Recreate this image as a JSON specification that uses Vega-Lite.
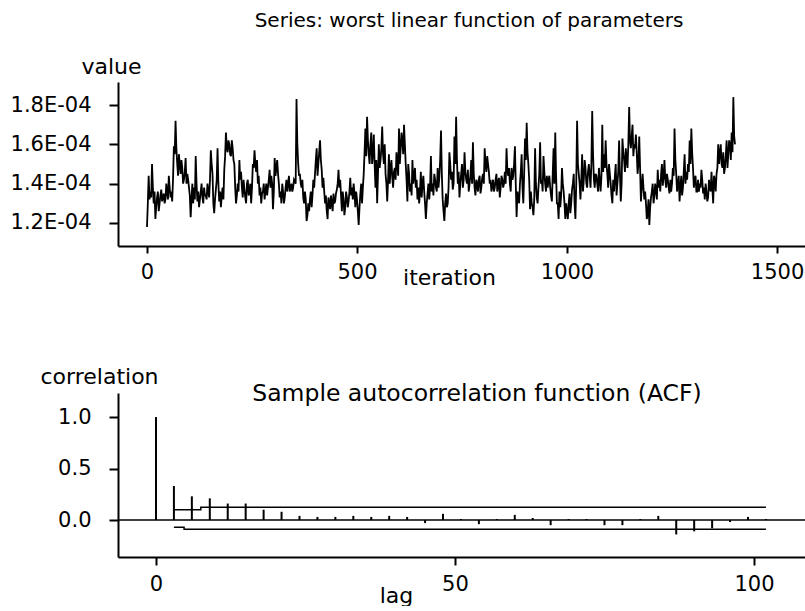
{
  "$schema": "https://vega.github.io/schema/vega-lite/v6.json",
  "autosize": {"type": "pad"},
  "padding": {"left": 10, "top": 11, "right": 0, "bottom": 0},
  "background": "white",
  "bounds": "flush",
  "spacing": 147,
  "config": {
    "view": {"stroke": null},
    "font": "DejaVu Sans",
    "axis": {"domainColor": "black", "domainWidth": 2, "tickColor": "black", "tickWidth": 2, "tickSize": 8, "labelColor": "black", "titleColor": "black", "labelFont": "DejaVu Sans", "titleFont": "DejaVu Sans", "labelFontSize": 21, "titleFontSize": 22, "titleFontWeight": "normal", "grid": false},
    "title": {"font": "DejaVu Sans", "fontSize": 21, "fontWeight": "normal", "color": "black"}
  },
  "vconcat": [
    {
      "width": 688,
      "height": 164,
      "title": {"text": "Series: worst linear function of parameters", "anchor": "middle", "frame": "group", "offset": 0, "dx": 7, "baseline": "alphabetic", "dy": -8, "fontSize": 20},
      "data": {"values": [
        {"i":0,"v":1.18e-4},{"i":4,"v":1.44e-4},{"i":8,"v":1.36e-4},{"i":12,"v":1.50e-4},{"i":16,"v":1.30e-4},{"i":20,"v":1.22e-4},{"i":24,"v":1.33e-4},{"i":28,"v":1.26e-4},{"i":32,"v":1.34e-4},{"i":36,"v":1.31e-4},{"i":40,"v":1.35e-4},{"i":44,"v":1.32e-4},{"i":48,"v":1.36e-4},{"i":52,"v":1.44e-4},{"i":56,"v":1.33e-4},{"i":60,"v":1.31e-4},{"i":64,"v":1.59e-4},{"i":68,"v":1.72e-4},{"i":72,"v":1.50e-4},{"i":76,"v":1.55e-4},{"i":80,"v":1.45e-4},{"i":84,"v":1.48e-4},{"i":88,"v":1.42e-4},{"i":92,"v":1.53e-4},{"i":96,"v":1.45e-4},{"i":100,"v":1.38e-4},{"i":104,"v":1.23e-4},{"i":108,"v":1.40e-4},{"i":112,"v":1.38e-4},{"i":116,"v":1.54e-4},{"i":120,"v":1.31e-4},{"i":124,"v":1.28e-4},{"i":128,"v":1.36e-4},{"i":132,"v":1.33e-4},{"i":136,"v":1.38e-4},{"i":140,"v":1.34e-4},{"i":144,"v":1.40e-4},{"i":148,"v":1.33e-4},{"i":152,"v":1.57e-4},{"i":156,"v":1.45e-4},{"i":160,"v":1.25e-4},{"i":164,"v":1.37e-4},{"i":168,"v":1.58e-4},{"i":172,"v":1.31e-4},{"i":176,"v":1.28e-4},{"i":180,"v":1.38e-4},{"i":184,"v":1.47e-4},{"i":188,"v":1.66e-4},{"i":192,"v":1.56e-4},{"i":196,"v":1.60e-4},{"i":200,"v":1.54e-4},{"i":204,"v":1.58e-4},{"i":208,"v":1.50e-4},{"i":212,"v":1.30e-4},{"i":216,"v":1.40e-4},{"i":220,"v":1.52e-4},
        {"i":224,"v":1.46e-4},{"i":228,"v":1.33e-4},{"i":232,"v":1.37e-4},{"i":236,"v":1.30e-4},{"i":240,"v":1.42e-4},{"i":244,"v":1.36e-4},{"i":248,"v":1.30e-4},{"i":252,"v":1.50e-4},{"i":256,"v":1.57e-4},{"i":260,"v":1.46e-4},{"i":264,"v":1.40e-4},{"i":268,"v":1.34e-4},{"i":272,"v":1.30e-4},{"i":276,"v":1.36e-4},{"i":280,"v":1.32e-4},{"i":284,"v":1.40e-4},{"i":288,"v":1.38e-4},{"i":292,"v":1.47e-4},{"i":296,"v":1.44e-4},{"i":300,"v":1.27e-4},{"i":304,"v":1.53e-4},{"i":308,"v":1.48e-4},{"i":312,"v":1.45e-4},{"i":316,"v":1.33e-4},{"i":320,"v":1.30e-4},{"i":324,"v":1.36e-4},{"i":328,"v":1.33e-4},{"i":332,"v":1.42e-4},{"i":336,"v":1.40e-4},{"i":340,"v":1.36e-4},{"i":344,"v":1.40e-4},{"i":348,"v":1.38e-4},{"i":352,"v":1.41e-4},{"i":356,"v":1.83e-4},{"i":360,"v":1.50e-4},{"i":364,"v":1.45e-4},{"i":368,"v":1.38e-4},{"i":372,"v":1.33e-4},{"i":376,"v":1.36e-4},{"i":380,"v":1.21e-4},{"i":384,"v":1.30e-4},{"i":388,"v":1.32e-4},{"i":392,"v":1.28e-4},{"i":396,"v":1.42e-4},{"i":400,"v":1.45e-4},{"i":404,"v":1.58e-4},{"i":408,"v":1.50e-4},{"i":412,"v":1.62e-4},{"i":416,"v":1.47e-4},{"i":420,"v":1.43e-4},{"i":424,"v":1.30e-4},{"i":428,"v":1.26e-4},{"i":432,"v":1.33e-4},{"i":436,"v":1.27e-4},{"i":440,"v":1.30e-4},{"i":444,"v":1.35e-4},{"i":448,"v":1.31e-4},{"i":452,"v":1.37e-4},{"i":456,"v":1.47e-4},{"i":460,"v":1.42e-4},
        {"i":464,"v":1.26e-4},{"i":468,"v":1.32e-4},{"i":472,"v":1.28e-4},{"i":476,"v":1.33e-4},{"i":480,"v":1.31e-4},{"i":484,"v":1.43e-4},{"i":488,"v":1.38e-4},{"i":492,"v":1.40e-4},{"i":496,"v":1.28e-4},{"i":500,"v":1.32e-4},{"i":504,"v":1.19e-4},{"i":508,"v":1.35e-4},{"i":512,"v":1.30e-4},{"i":516,"v":1.45e-4},{"i":520,"v":1.68e-4},{"i":524,"v":1.74e-4},{"i":528,"v":1.55e-4},{"i":532,"v":1.60e-4},{"i":536,"v":1.50e-4},{"i":540,"v":1.65e-4},{"i":544,"v":1.38e-4},{"i":548,"v":1.30e-4},{"i":552,"v":1.60e-4},{"i":556,"v":1.52e-4},{"i":560,"v":1.69e-4},{"i":564,"v":1.50e-4},{"i":568,"v":1.45e-4},{"i":572,"v":1.31e-4},{"i":576,"v":1.55e-4},{"i":580,"v":1.48e-4},{"i":584,"v":1.43e-4},{"i":588,"v":1.46e-4},{"i":592,"v":1.42e-4},{"i":596,"v":1.50e-4},{"i":600,"v":1.68e-4},{"i":604,"v":1.58e-4},{"i":608,"v":1.62e-4},{"i":612,"v":1.70e-4},{"i":616,"v":1.50e-4},{"i":620,"v":1.31e-4},{"i":624,"v":1.45e-4},{"i":628,"v":1.40e-4},{"i":632,"v":1.52e-4},{"i":636,"v":1.44e-4},{"i":640,"v":1.38e-4},{"i":644,"v":1.32e-4},{"i":648,"v":1.30e-4},{"i":652,"v":1.46e-4},{"i":656,"v":1.40e-4},{"i":660,"v":1.36e-4},{"i":664,"v":1.22e-4},{"i":668,"v":1.35e-4},{"i":672,"v":1.32e-4},{"i":676,"v":1.54e-4},{"i":680,"v":1.40e-4},{"i":684,"v":1.45e-4},{"i":688,"v":1.38e-4},{"i":692,"v":1.48e-4},{"i":696,"v":1.43e-4},{"i":700,"v":1.67e-4},
        {"i":704,"v":1.32e-4},{"i":708,"v":1.21e-4},{"i":712,"v":1.35e-4},{"i":716,"v":1.30e-4},{"i":720,"v":1.56e-4},{"i":724,"v":1.42e-4},{"i":728,"v":1.37e-4},{"i":732,"v":1.64e-4},{"i":736,"v":1.74e-4},{"i":740,"v":1.40e-4},{"i":744,"v":1.33e-4},{"i":748,"v":1.45e-4},{"i":752,"v":1.38e-4},{"i":756,"v":1.56e-4},{"i":760,"v":1.42e-4},{"i":764,"v":1.47e-4},{"i":768,"v":1.40e-4},{"i":772,"v":1.52e-4},{"i":776,"v":1.61e-4},{"i":780,"v":1.38e-4},{"i":784,"v":1.42e-4},{"i":788,"v":1.36e-4},{"i":792,"v":1.44e-4},{"i":796,"v":1.38e-4},{"i":800,"v":1.45e-4},{"i":804,"v":1.58e-4},{"i":808,"v":1.46e-4},{"i":812,"v":1.50e-4},{"i":816,"v":1.40e-4},{"i":820,"v":1.36e-4},{"i":824,"v":1.42e-4},{"i":828,"v":1.38e-4},{"i":832,"v":1.45e-4},{"i":836,"v":1.40e-4},{"i":840,"v":1.33e-4},{"i":844,"v":1.44e-4},{"i":848,"v":1.38e-4},{"i":852,"v":1.46e-4},{"i":856,"v":1.58e-4},{"i":860,"v":1.44e-4},{"i":864,"v":1.40e-4},{"i":868,"v":1.48e-4},{"i":872,"v":1.44e-4},{"i":876,"v":1.59e-4},{"i":880,"v":1.23e-4},{"i":884,"v":1.32e-4},{"i":888,"v":1.40e-4},{"i":892,"v":1.55e-4},{"i":896,"v":1.30e-4},{"i":900,"v":1.63e-4},{"i":904,"v":1.71e-4},{"i":908,"v":1.50e-4},{"i":912,"v":1.27e-4},{"i":916,"v":1.30e-4},{"i":920,"v":1.24e-4},{"i":924,"v":1.58e-4},{"i":928,"v":1.33e-4},{"i":932,"v":1.38e-4},{"i":936,"v":1.61e-4},
        {"i":940,"v":1.42e-4},{"i":944,"v":1.54e-4},{"i":948,"v":1.40e-4},{"i":952,"v":1.44e-4},{"i":956,"v":1.42e-4},{"i":960,"v":1.38e-4},{"i":964,"v":1.31e-4},{"i":968,"v":1.58e-4},{"i":972,"v":1.66e-4},{"i":976,"v":1.30e-4},{"i":980,"v":1.22e-4},{"i":984,"v":1.28e-4},{"i":988,"v":1.48e-4},{"i":992,"v":1.36e-4},{"i":996,"v":1.22e-4},{"i":1000,"v":1.26e-4},{"i":1004,"v":1.30e-4},{"i":1008,"v":1.25e-4},{"i":1012,"v":1.37e-4},{"i":1016,"v":1.45e-4},{"i":1020,"v":1.22e-4},{"i":1024,"v":1.72e-4},{"i":1028,"v":1.45e-4},{"i":1032,"v":1.32e-4},{"i":1036,"v":1.55e-4},{"i":1040,"v":1.42e-4},{"i":1044,"v":1.48e-4},{"i":1048,"v":1.38e-4},{"i":1052,"v":1.50e-4},{"i":1056,"v":1.38e-4},{"i":1060,"v":1.77e-4},{"i":1064,"v":1.42e-4},{"i":1068,"v":1.45e-4},{"i":1072,"v":1.40e-4},{"i":1076,"v":1.48e-4},{"i":1080,"v":1.36e-4},{"i":1084,"v":1.70e-4},{"i":1088,"v":1.55e-4},{"i":1092,"v":1.62e-4},{"i":1096,"v":1.45e-4},{"i":1100,"v":1.50e-4},{"i":1104,"v":1.40e-4},{"i":1108,"v":1.30e-4},{"i":1112,"v":1.36e-4},{"i":1116,"v":1.50e-4},{"i":1120,"v":1.40e-4},{"i":1124,"v":1.62e-4},{"i":1128,"v":1.31e-4},{"i":1132,"v":1.63e-4},{"i":1136,"v":1.52e-4},{"i":1140,"v":1.58e-4},{"i":1144,"v":1.48e-4},{"i":1148,"v":1.79e-4},{"i":1152,"v":1.58e-4},{"i":1156,"v":1.70e-4},{"i":1160,"v":1.60e-4},{"i":1164,"v":1.65e-4},{"i":1168,"v":1.45e-4},{"i":1172,"v":1.64e-4},{"i":1176,"v":1.31e-4},
        {"i":1180,"v":1.45e-4},{"i":1184,"v":1.32e-4},{"i":1188,"v":1.30e-4},{"i":1192,"v":1.25e-4},{"i":1196,"v":1.19e-4},{"i":1200,"v":1.33e-4},{"i":1204,"v":1.40e-4},{"i":1208,"v":1.34e-4},{"i":1212,"v":1.36e-4},{"i":1216,"v":1.47e-4},{"i":1220,"v":1.42e-4},{"i":1224,"v":1.45e-4},{"i":1228,"v":1.39e-4},{"i":1232,"v":1.52e-4},{"i":1236,"v":1.38e-4},{"i":1240,"v":1.42e-4},{"i":1244,"v":1.35e-4},{"i":1248,"v":1.36e-4},{"i":1252,"v":1.48e-4},{"i":1256,"v":1.68e-4},{"i":1260,"v":1.45e-4},{"i":1264,"v":1.40e-4},{"i":1268,"v":1.31e-4},{"i":1272,"v":1.44e-4},{"i":1276,"v":1.38e-4},{"i":1280,"v":1.55e-4},{"i":1284,"v":1.46e-4},{"i":1288,"v":1.50e-4},{"i":1292,"v":1.62e-4},{"i":1296,"v":1.68e-4},{"i":1300,"v":1.48e-4},{"i":1304,"v":1.42e-4},{"i":1308,"v":1.36e-4},{"i":1312,"v":1.42e-4},{"i":1316,"v":1.40e-4},{"i":1320,"v":1.47e-4},{"i":1324,"v":1.35e-4},{"i":1328,"v":1.32e-4},{"i":1332,"v":1.36e-4},{"i":1336,"v":1.33e-4},{"i":1340,"v":1.38e-4},{"i":1344,"v":1.46e-4},{"i":1348,"v":1.30e-4},{"i":1352,"v":1.42e-4},{"i":1356,"v":1.45e-4},{"i":1360,"v":1.60e-4},{"i":1364,"v":1.55e-4},{"i":1368,"v":1.50e-4},{"i":1372,"v":1.56e-4},{"i":1376,"v":1.48e-4},{"i":1380,"v":1.62e-4},{"i":1384,"v":1.55e-4},{"i":1388,"v":1.60e-4},{"i":1392,"v":1.66e-4},{"i":1396,"v":1.84e-4},{"i":1400,"v":1.60e-4},
        {"i":2,"v":1.30e-4},{"i":6,"v":1.32e-4},{"i":10,"v":1.33e-4},{"i":14,"v":1.38e-4},{"i":18,"v":1.36e-4},{"i":22,"v":1.28e-4},{"i":26,"v":1.36e-4},{"i":30,"v":1.30e-4},{"i":34,"v":1.37e-4},{"i":38,"v":1.33e-4},{"i":42,"v":1.30e-4},{"i":46,"v":1.40e-4},{"i":50,"v":1.32e-4},{"i":54,"v":1.38e-4},{"i":58,"v":1.36e-4},{"i":62,"v":1.42e-4},{"i":66,"v":1.55e-4},{"i":70,"v":1.58e-4},{"i":74,"v":1.44e-4},{"i":78,"v":1.50e-4},{"i":82,"v":1.52e-4},{"i":86,"v":1.40e-4},{"i":90,"v":1.46e-4},{"i":94,"v":1.40e-4},{"i":98,"v":1.42e-4},{"i":102,"v":1.34e-4},{"i":106,"v":1.32e-4},{"i":110,"v":1.30e-4},{"i":114,"v":1.32e-4},{"i":118,"v":1.40e-4},{"i":122,"v":1.36e-4},{"i":126,"v":1.32e-4},{"i":130,"v":1.40e-4},{"i":134,"v":1.30e-4},{"i":138,"v":1.34e-4},{"i":142,"v":1.32e-4},{"i":146,"v":1.36e-4},{"i":150,"v":1.42e-4},{"i":154,"v":1.50e-4},{"i":158,"v":1.30e-4},{"i":162,"v":1.32e-4},{"i":166,"v":1.42e-4},{"i":170,"v":1.40e-4},{"i":174,"v":1.36e-4},{"i":178,"v":1.34e-4},{"i":182,"v":1.32e-4},{"i":186,"v":1.54e-4},{"i":190,"v":1.58e-4},{"i":194,"v":1.62e-4},{"i":198,"v":1.55e-4},{"i":202,"v":1.62e-4},{"i":206,"v":1.52e-4},{"i":210,"v":1.38e-4},{"i":214,"v":1.34e-4},{"i":218,"v":1.36e-4},{"i":222,"v":1.42e-4},
        {"i":226,"v":1.38e-4},{"i":230,"v":1.42e-4},{"i":234,"v":1.33e-4},{"i":238,"v":1.40e-4},{"i":242,"v":1.34e-4},{"i":246,"v":1.40e-4},{"i":250,"v":1.38e-4},{"i":254,"v":1.48e-4},{"i":258,"v":1.50e-4},{"i":262,"v":1.52e-4},{"i":266,"v":1.44e-4},{"i":270,"v":1.38e-4},{"i":274,"v":1.35e-4},{"i":278,"v":1.40e-4},{"i":282,"v":1.36e-4},{"i":286,"v":1.34e-4},{"i":290,"v":1.42e-4},{"i":294,"v":1.38e-4},{"i":298,"v":1.40e-4},{"i":302,"v":1.36e-4},{"i":306,"v":1.44e-4},{"i":310,"v":1.52e-4},{"i":314,"v":1.40e-4},{"i":318,"v":1.36e-4},{"i":322,"v":1.40e-4},{"i":326,"v":1.30e-4},{"i":330,"v":1.38e-4},{"i":334,"v":1.36e-4},{"i":338,"v":1.44e-4},{"i":342,"v":1.38e-4},{"i":346,"v":1.36e-4},{"i":350,"v":1.42e-4},{"i":354,"v":1.40e-4},{"i":358,"v":1.60e-4},{"i":362,"v":1.44e-4},{"i":366,"v":1.40e-4},{"i":370,"v":1.42e-4},{"i":374,"v":1.30e-4},{"i":378,"v":1.32e-4},{"i":382,"v":1.24e-4},{"i":386,"v":1.26e-4},{"i":390,"v":1.36e-4},{"i":394,"v":1.34e-4},{"i":398,"v":1.38e-4},{"i":402,"v":1.52e-4},{"i":406,"v":1.44e-4},{"i":410,"v":1.56e-4},{"i":414,"v":1.52e-4},{"i":418,"v":1.38e-4},{"i":422,"v":1.36e-4},{"i":426,"v":1.34e-4},{"i":430,"v":1.22e-4},{"i":434,"v":1.30e-4},{"i":438,"v":1.34e-4},{"i":442,"v":1.26e-4},{"i":446,"v":1.30e-4},{"i":450,"v":1.35e-4},{"i":454,"v":1.40e-4},{"i":458,"v":1.38e-4},{"i":462,"v":1.34e-4},
        {"i":466,"v":1.36e-4},{"i":470,"v":1.24e-4},{"i":474,"v":1.36e-4},{"i":478,"v":1.28e-4},{"i":482,"v":1.36e-4},{"i":486,"v":1.34e-4},{"i":490,"v":1.32e-4},{"i":494,"v":1.35e-4},{"i":498,"v":1.36e-4},{"i":502,"v":1.26e-4},{"i":506,"v":1.28e-4},{"i":510,"v":1.40e-4},{"i":514,"v":1.38e-4},{"i":518,"v":1.56e-4},{"i":522,"v":1.54e-4},{"i":526,"v":1.62e-4},{"i":530,"v":1.50e-4},{"i":534,"v":1.66e-4},{"i":538,"v":1.55e-4},{"i":542,"v":1.50e-4},{"i":546,"v":1.52e-4},{"i":550,"v":1.45e-4},{"i":554,"v":1.48e-4},{"i":558,"v":1.58e-4},{"i":562,"v":1.55e-4},{"i":566,"v":1.60e-4},{"i":570,"v":1.40e-4},{"i":574,"v":1.42e-4},{"i":578,"v":1.40e-4},{"i":582,"v":1.52e-4},{"i":586,"v":1.38e-4},{"i":590,"v":1.48e-4},{"i":594,"v":1.56e-4},{"i":598,"v":1.44e-4},{"i":602,"v":1.50e-4},{"i":606,"v":1.66e-4},{"i":610,"v":1.55e-4},{"i":614,"v":1.60e-4},{"i":618,"v":1.42e-4},{"i":622,"v":1.50e-4},{"i":626,"v":1.36e-4},{"i":630,"v":1.34e-4},{"i":634,"v":1.40e-4},{"i":638,"v":1.48e-4},{"i":642,"v":1.42e-4},{"i":646,"v":1.38e-4},{"i":650,"v":1.36e-4},{"i":654,"v":1.33e-4},{"i":658,"v":1.44e-4},{"i":662,"v":1.30e-4},{"i":666,"v":1.30e-4},{"i":670,"v":1.40e-4},{"i":674,"v":1.38e-4},{"i":678,"v":1.36e-4},{"i":682,"v":1.34e-4},{"i":686,"v":1.42e-4},{"i":690,"v":1.36e-4},{"i":694,"v":1.38e-4},{"i":698,"v":1.52e-4},{"i":702,"v":1.45e-4},
        {"i":706,"v":1.26e-4},{"i":710,"v":1.30e-4},{"i":714,"v":1.28e-4},{"i":718,"v":1.38e-4},{"i":722,"v":1.50e-4},{"i":726,"v":1.46e-4},{"i":730,"v":1.40e-4},{"i":734,"v":1.50e-4},{"i":738,"v":1.52e-4},{"i":742,"v":1.46e-4},{"i":746,"v":1.40e-4},{"i":750,"v":1.50e-4},{"i":754,"v":1.42e-4},{"i":758,"v":1.46e-4},{"i":762,"v":1.40e-4},{"i":766,"v":1.36e-4},{"i":770,"v":1.44e-4},{"i":774,"v":1.40e-4},{"i":778,"v":1.45e-4},{"i":782,"v":1.34e-4},{"i":786,"v":1.40e-4},{"i":790,"v":1.42e-4},{"i":794,"v":1.35e-4},{"i":798,"v":1.43e-4},{"i":802,"v":1.40e-4},{"i":806,"v":1.50e-4},{"i":810,"v":1.54e-4},{"i":814,"v":1.46e-4},{"i":818,"v":1.42e-4},{"i":822,"v":1.39e-4},{"i":826,"v":1.36e-4},{"i":830,"v":1.42e-4},{"i":834,"v":1.36e-4},{"i":838,"v":1.43e-4},{"i":842,"v":1.38e-4},{"i":846,"v":1.42e-4},{"i":850,"v":1.40e-4},{"i":854,"v":1.40e-4},{"i":858,"v":1.47e-4},{"i":862,"v":1.48e-4},{"i":866,"v":1.36e-4},{"i":870,"v":1.42e-4},{"i":874,"v":1.50e-4},{"i":878,"v":1.40e-4},{"i":882,"v":1.36e-4},{"i":886,"v":1.30e-4},{"i":890,"v":1.46e-4},{"i":894,"v":1.38e-4},{"i":898,"v":1.45e-4},{"i":902,"v":1.52e-4},{"i":906,"v":1.56e-4},{"i":910,"v":1.42e-4},{"i":914,"v":1.36e-4},{"i":918,"v":1.28e-4},{"i":922,"v":1.32e-4},{"i":926,"v":1.40e-4},{"i":930,"v":1.30e-4},{"i":934,"v":1.45e-4},{"i":938,"v":1.40e-4},
        {"i":942,"v":1.36e-4},{"i":946,"v":1.46e-4},{"i":950,"v":1.36e-4},{"i":954,"v":1.38e-4},{"i":958,"v":1.44e-4},{"i":962,"v":1.34e-4},{"i":966,"v":1.45e-4},{"i":970,"v":1.40e-4},{"i":974,"v":1.44e-4},{"i":978,"v":1.30e-4},{"i":982,"v":1.36e-4},{"i":986,"v":1.34e-4},{"i":990,"v":1.40e-4},{"i":994,"v":1.30e-4},{"i":998,"v":1.30e-4},{"i":1002,"v":1.22e-4},{"i":1006,"v":1.35e-4},{"i":1010,"v":1.30e-4},{"i":1014,"v":1.40e-4},{"i":1018,"v":1.30e-4},{"i":1022,"v":1.40e-4},{"i":1026,"v":1.50e-4},{"i":1030,"v":1.40e-4},{"i":1034,"v":1.42e-4},{"i":1038,"v":1.36e-4},{"i":1042,"v":1.52e-4},{"i":1046,"v":1.40e-4},{"i":1050,"v":1.46e-4},{"i":1054,"v":1.44e-4},{"i":1058,"v":1.50e-4},{"i":1062,"v":1.55e-4},{"i":1066,"v":1.38e-4},{"i":1070,"v":1.44e-4},{"i":1074,"v":1.36e-4},{"i":1078,"v":1.42e-4},{"i":1082,"v":1.44e-4},{"i":1086,"v":1.46e-4},{"i":1090,"v":1.48e-4},{"i":1094,"v":1.50e-4},{"i":1098,"v":1.38e-4},{"i":1102,"v":1.45e-4},{"i":1106,"v":1.34e-4},{"i":1110,"v":1.42e-4},{"i":1114,"v":1.44e-4},{"i":1118,"v":1.34e-4},{"i":1122,"v":1.46e-4},{"i":1126,"v":1.45e-4},{"i":1130,"v":1.40e-4},{"i":1134,"v":1.56e-4},{"i":1138,"v":1.46e-4},{"i":1142,"v":1.52e-4},{"i":1146,"v":1.60e-4},{"i":1150,"v":1.62e-4},{"i":1154,"v":1.64e-4},{"i":1158,"v":1.54e-4},{"i":1162,"v":1.58e-4},{"i":1166,"v":1.56e-4},{"i":1170,"v":1.50e-4},{"i":1174,"v":1.48e-4},{"i":1178,"v":1.38e-4},
        {"i":1182,"v":1.38e-4},{"i":1186,"v":1.36e-4},{"i":1190,"v":1.22e-4},{"i":1194,"v":1.32e-4},{"i":1198,"v":1.28e-4},{"i":1202,"v":1.36e-4},{"i":1206,"v":1.30e-4},{"i":1210,"v":1.40e-4},{"i":1214,"v":1.32e-4},{"i":1218,"v":1.38e-4},{"i":1222,"v":1.36e-4},{"i":1226,"v":1.50e-4},{"i":1230,"v":1.44e-4},{"i":1234,"v":1.42e-4},{"i":1238,"v":1.45e-4},{"i":1242,"v":1.38e-4},{"i":1246,"v":1.42e-4},{"i":1250,"v":1.40e-4},{"i":1254,"v":1.44e-4},{"i":1258,"v":1.52e-4},{"i":1262,"v":1.36e-4},{"i":1266,"v":1.44e-4},{"i":1270,"v":1.38e-4},{"i":1274,"v":1.34e-4},{"i":1278,"v":1.46e-4},{"i":1282,"v":1.40e-4},{"i":1286,"v":1.42e-4},{"i":1290,"v":1.46e-4},{"i":1294,"v":1.50e-4},{"i":1298,"v":1.56e-4},{"i":1302,"v":1.38e-4},{"i":1306,"v":1.44e-4},{"i":1310,"v":1.36e-4},{"i":1314,"v":1.36e-4},{"i":1318,"v":1.38e-4},{"i":1322,"v":1.42e-4},{"i":1326,"v":1.38e-4},{"i":1330,"v":1.40e-4},{"i":1334,"v":1.31e-4},{"i":1338,"v":1.42e-4},{"i":1342,"v":1.36e-4},{"i":1346,"v":1.38e-4},{"i":1350,"v":1.44e-4},{"i":1354,"v":1.36e-4},{"i":1358,"v":1.48e-4},{"i":1362,"v":1.50e-4},{"i":1366,"v":1.60e-4},{"i":1370,"v":1.48e-4},{"i":1374,"v":1.45e-4},{"i":1378,"v":1.54e-4},{"i":1382,"v":1.48e-4},{"i":1386,"v":1.62e-4},{"i":1390,"v":1.52e-4},{"i":1394,"v":1.56e-4},{"i":1398,"v":1.64e-4}
      ]},
      "mark": {"type": "line", "color": "black", "strokeWidth": 1.8, "clip": true},
      "encoding": {
        "x": {"field": "i", "type": "quantitative", "scale": {"domain": [-69, 1569], "nice": false, "zero": false},
              "axis": {"values": [0, 500, 1000, 1500], "format": "d", "labelPadding": 8, "tickSize": 7, "title": "iteration", "titleX": 331, "titleY": 38, "titleBaseline": "alphabetic"}},
        "y": {"field": "v", "type": "quantitative", "scale": {"domain": [1.083e-4, 1.917e-4], "nice": false, "zero": false},
              "axis": {"values": [1.2e-4, 1.4e-4, 1.6e-4, 1.8e-4], "labelExpr": "format(datum.value*1e4, '.1f') + 'E-04'", "tickSize": 9, "labelPadding": 18, "title": "value", "titleAngle": 0, "titleX": -37, "titleY": -9, "titleAlign": "left", "titleBaseline": "alphabetic"}}
      }
    },
    {
      "width": 688,
      "height": 164,
      "title": {"text": "Sample autocorrelation function (ACF)", "anchor": "middle", "frame": "group", "offset": 0, "dx": 15, "baseline": "alphabetic", "fontSize": 23.5, "dy": 59},
      "layer": [
        {
          "data": {"values": [{"zero": 0}]},
          "mark": {"type": "rule", "color": "black", "strokeWidth": 1.5},
          "encoding": {"y": {"field": "zero", "type": "quantitative"}}
        },
        {
          "data": {"values": [
            {"lag":0,"acf":1.0},{"lag":3,"acf":0.33},{"lag":6,"acf":0.23},{"lag":9,"acf":0.21},{"lag":12,"acf":0.16},{"lag":15,"acf":0.16},{"lag":18,"acf":0.10},{"lag":21,"acf":0.08},{"lag":24,"acf":0.04},{"lag":27,"acf":0.03},{"lag":30,"acf":0.03},{"lag":33,"acf":0.04},{"lag":36,"acf":0.03},{"lag":39,"acf":0.04},{"lag":42,"acf":0.03},{"lag":45,"acf":-0.03},{"lag":48,"acf":0.06},{"lag":51,"acf":0.01},{"lag":54,"acf":-0.04},{"lag":57,"acf":0.01},{"lag":60,"acf":0.05},{"lag":63,"acf":0.02},{"lag":66,"acf":-0.05},{"lag":69,"acf":0.01},{"lag":72,"acf":0.01},{"lag":75,"acf":-0.05},{"lag":78,"acf":-0.05},{"lag":81,"acf":0.01},{"lag":84,"acf":0.04},{"lag":87,"acf":-0.14},{"lag":90,"acf":-0.11},{"lag":93,"acf":-0.08},{"lag":96,"acf":-0.02},{"lag":99,"acf":0.03},{"lag":102,"acf":0.01}
          ]},
          "mark": {"type": "rule", "color": "black", "strokeWidth": 2},
          "encoding": {
            "x": {"field": "lag", "type": "quantitative", "scale": {"domain": [-6.35, 108.7], "nice": false, "zero": false},
                  "axis": {"values": [0, 50, 100], "labelPadding": 8, "tickSize": 8, "title": "lag", "titleX": 278, "titleY": 45, "titleBaseline": "alphabetic"}},
            "y": {"field": "acf", "type": "quantitative", "scale": {"domain": [-0.359, 1.233], "nice": false, "zero": false},
                  "axis": {"values": [0, 0.5, 1], "format": ".1f", "tickSize": 9, "labelPadding": 18, "title": "correlation", "titleAngle": 0, "titleX": -78, "titleY": -10, "titleAlign": "left", "titleBaseline": "alphabetic"}},
            "y2": {"datum": 0}
          }
        },
        {
          "data": {"values": [
            {"band":"upper","k":1,"lag":3,"value":0.10},{"band":"upper","k":2,"lag":7.5,"value":0.10},{"band":"upper","k":3,"lag":7.5,"value":0.125},{"band":"upper","k":4,"lag":102,"value":0.125},
            {"band":"lower","k":1,"lag":3,"value":-0.07},{"band":"lower","k":2,"lag":4.7,"value":-0.07},{"band":"lower","k":3,"lag":4.7,"value":-0.09},{"band":"lower","k":4,"lag":102,"value":-0.09}
          ]},
          "mark": {"type": "line", "color": "black", "strokeWidth": 1.5},
          "encoding": {
            "x": {"field": "lag", "type": "quantitative"},
            "y": {"field": "value", "type": "quantitative"},
            "detail": {"field": "band"},
            "order": {"field": "k"}
          }
        }
      ]
    }
  ]
}
